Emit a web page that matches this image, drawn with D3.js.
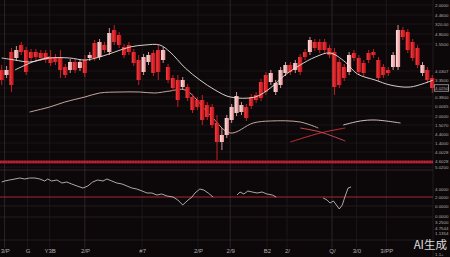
<!DOCTYPE html>
<html lang="en">
<head>
<meta charset="UTF-8">
<title>Candlestick chart</title>
<style>
  body { margin: 0; background: #0c0809; overflow: hidden; }
  svg { display: block; }
  .axis text { font-family: "Liberation Sans", sans-serif; fill: #b3aaab; }
  .axis path { display: none; }
</style>
</head>
<body>
<script src="https://cdn.jsdelivr.net/npm/d3@7/dist/d3.min.js"></script>
<script>
// candle values (one entry per session)
const open  = [100,95,118,112,125,120,118,118,117,117,113,113,113,103,100,108,102,110,112,127,113,125,118,140,135,123,125,118,110,98,
               108,117,120,110,103,92,90,83,83,73,70,70,65,63,47,28,35,50,57,58,63,73,75,88,95,88,78,85,97,105,
               100,113,118,118,128,128,128,122,118,108,103,98,117,112,107,117,118,110,103,100,103,103,140,138,128,122,97,100,92];
const close = [90,100,85,120,118,98,112,113,112,110,107,108,100,95,108,100,108,97,115,112,128,120,137,128,125,115,118,107,90,113,
               115,97,98,120,90,82,70,90,72,60,63,50,53,45,28,35,52,63,74,65,52,64,70,72,78,97,87,100,105,98,
               107,98,113,130,122,120,120,115,83,85,92,115,112,98,97,110,115,92,95,97,115,140,133,120,112,105,105,90,82];
const high  = [105,104,122,124,128,123,121,121,120,120,120,116,120,106,111,111,111,115,118,130,131,128,142,145,138,126,128,121,115,116,
               118,120,125,123,106,95,95,93,86,76,73,75,68,66,55,42,55,66,78,68,66,76,78,91,98,100,90,103,108,108,
               110,116,121,133,131,131,131,125,122,111,106,118,120,115,110,120,121,113,106,103,118,145,143,141,131,125,108,103,95];
const low   = [85,92,78,109,115,95,109,110,109,107,104,105,92,92,97,97,99,93,109,109,110,117,115,125,122,112,115,104,85,95,
               105,94,90,107,87,79,63,80,69,57,60,45,50,42,10,20,32,47,54,55,49,61,67,69,75,85,75,82,94,95,
               97,95,110,115,119,117,117,112,75,82,89,95,109,95,94,107,112,89,92,94,100,100,130,117,109,102,94,87,77];

// overlay lines: [session index, value]
const maFast  = [[0,112],[2.7,110],[5.7,108],[9.8,112],[13.9,112],[17,110],[20,113],[23.1,118],[26.2,123],[29.3,125],[32.3,125],
                 [34.4,118],[37.5,102],[40.5,90],[43.6,80],[46.7,73],[51.8,73],[54.9,82],[57.9,95],[61,105],[64.1,113],[67.1,117],
                 [70.2,108],[72.7,96],[76.3,90],[79.4,85],[83.5,83],[88.2,90]];
const maShort = [[2.7,100],[6.3,108],[9.8,113]];
const maSlow  = [[5.7,58],[9.8,63],[12.9,68],[17,73],[20,77],[24.2,78],[28.2,78],[31.3,77],[34.4,79],[37.5,80],[42.6,55],
                 [46.7,37],[51.4,47],[54.9,49],[61,48],[64.7,42]];
const maSlowB = [[69.8,45],[73.3,49],[76.3,50],[81.5,47]];
const crossA  = [[59,28],[65.1,37],[70.2,42]];
const crossB  = [[61,42],[65.1,38],[70.2,29]];
const bandLevel = 8;

// lower indicator
const osc = [[0,18],[0.6,19],[1.6,20],[2.7,21],[3.7,22],[4.7,21],[5.7,22],[6.8,22],[7.8,21],[8.8,19],[9.4,21],[10.2,19],[11.3,20],
             [12.3,17],[13.3,18],[14.3,16],[15.4,14],[16.6,12],[17.6,14],[18.6,18],[19.6,20],[20.7,19],[21.5,21],[22.5,19],
             [23.5,17],[24.6,16],[25.6,14],[26.6,12],[27.6,11],[28.7,9],[29.7,7],[30.7,7],[31.7,5],[32.7,6],[33.8,4],[35,3],
             [36,0],[37,-5],[38.1,0],[38.9,3],[39.5,7],[40.5,11],[41.3,10],[42.2,7],[43.2,3],[45,null],
             [48.1,5],[48.7,8],[49.5,6],[50.3,9],[51.2,8],[52.2,7],[53.2,8],[54.2,6],[55.3,5],[56.1,3],[60,null],
             [65.7,2],[66.5,0],[67.1,-3],[67.8,-1],[68.4,-5],[69,-9],[69.6,-5],[70.2,4],[70.8,12],[71.4,13]];
const oscLevel = 3;
const oscGrid = [-6, -17, -40];

// axis labels
const priceTicks  = [165,155,146,136,126,99,90,82,73,64,54,45,36,27,18,9,3];
const priceLabels = ["2.0000","4.4600","320.00","4.8000","1.5500","4.0307","3.3500","4.0250","0.3900","0.0065","2.0000",
                     "1.5070","4.4000","1.4000","4.0028","4.6028","5.0200"];
const oscTicks  = [11,3,-6,-16,-22,-28,-33.5,-54.5];
const oscLabels = ["4.0000","2.0000","0.0000","0.0000","3.2500","4.7544","1.1354","1.1+"];
const dateTicks  = [0.6,5.3,9.8,17,28.7,40.1,46.7,54.2,58.3,67.5,72.5,78.6];
const dateLabels = ["3/P","G","Y3B","2/P","#7","2/P","2/9","B2","2/","Q/","3/0","3/PP"];
const markerTick = 82;

const W = 450, H = 257, plotRight = 433;
const n = open.length;

const svg = d3.select("body").append("svg").attr("width", W).attr("height", H);
svg.append("rect").attr("width", W).attr("height", H).attr("fill", "#0c0809");

const defs = svg.append("defs");
const gRed = defs.append("linearGradient").attr("id", "gRed").attr("x1", 0).attr("x2", 1).attr("y1", 0).attr("y2", 0);
gRed.append("stop").attr("offset", "0%").attr("stop-color", "#ff3b3b");
gRed.append("stop").attr("offset", "100%").attr("stop-color", "#b5121b");
const gPink = defs.append("linearGradient").attr("id", "gPink").attr("x1", 0).attr("x2", 1).attr("y1", 0).attr("y2", 0);
gPink.append("stop").attr("offset", "0%").attr("stop-color", "#fde3e1");
gPink.append("stop").attr("offset", "100%").attr("stop-color", "#e88f92");

const x = d3.scaleBand().domain(d3.range(n)).range([-0.4, 434.4]).paddingInner(0.14);
const bw = x.bandwidth();
const xl = d3.scaleLinear().domain([0, n - 1]).range([x(0) + bw / 2, x(n - 1) + bw / 2]);
const y = d3.scaleLinear().domain([0, 170]).range([170, 0]);
const yo = d3.scaleLinear().domain([-30, 30]).range([230, 170]);

// grid
svg.append("g").selectAll("line").data(priceTicks).join("line")
  .attr("x1", 0).attr("x2", plotRight).attr("y1", d => y(d)).attr("y2", d => y(d))
  .attr("stroke", "#241b1e").attr("stroke-width", 0.6);
svg.append("g").selectAll("line").data(oscGrid).join("line")
  .attr("x1", 0).attr("x2", plotRight).attr("y1", d => yo(d)).attr("y2", d => yo(d))
  .attr("stroke", "#2e2226").attr("stroke-width", 0.7);
svg.append("g").selectAll("line").data(dateTicks).join("line")
  .attr("x1", d => xl(d)).attr("x2", d => xl(d)).attr("y1", 0).attr("y2", 248)
  .attr("stroke", (d, i) => i % 3 === 0 ? "#3a3034" : "#241c1f").attr("stroke-width", 0.7);
svg.append("line").attr("x1", plotRight).attr("x2", plotRight).attr("y1", 0).attr("y2", H)
  .attr("stroke", "#2a2024").attr("stroke-width", 0.7);

// panel separators
svg.append("line").attr("x1", 0).attr("x2", plotRight).attr("y1", y(0)).attr("y2", y(0))
  .attr("stroke", "#4a2630").attr("stroke-width", 0.8);
svg.append("line").attr("x1", 0).attr("x2", plotRight).attr("y1", y(bandLevel)).attr("y2", y(bandLevel))
  .attr("stroke", "#b81b31").attr("stroke-width", 3.2).attr("opacity", 0.85);
svg.append("line").attr("x1", 0).attr("x2", plotRight).attr("y1", y(bandLevel)).attr("y2", y(bandLevel))
  .attr("stroke", "#ff4a5a").attr("stroke-width", 1.2).attr("stroke-dasharray", "1.5,1.2").attr("opacity", 0.6);

// slow lines
const line = d3.line().defined(d => d[1] != null).x(d => xl(d[0])).y(d => y(d[1])).curve(d3.curveCatmullRom);
svg.append("path").datum(maSlow).attr("d", line).attr("fill", "none").attr("stroke", "#d9b7ae").attr("stroke-width", 0.9);
svg.append("path").datum(maSlowB).attr("d", line).attr("fill", "none").attr("stroke", "#e4d2ce").attr("stroke-width", 0.9);
svg.append("path").datum(crossA).attr("d", line).attr("fill", "none").attr("stroke", "#d8363e").attr("stroke-width", 0.9);
svg.append("path").datum(crossB).attr("d", line).attr("fill", "none").attr("stroke", "#e0505a").attr("stroke-width", 0.9);

// candles
const idx = d3.range(n);
const up = i => close[i] > open[i];
const candles = svg.append("g").selectAll("g").data(idx).join("g");
candles.append("line")
  .attr("x1", i => x(i) + bw / 2).attr("x2", i => x(i) + bw / 2)
  .attr("y1", i => y(high[i])).attr("y2", i => y(low[i]))
  .attr("stroke", i => up(i) ? "#e9a3a6" : "#d4222c").attr("stroke-width", 0.9);
candles.append("rect")
  .attr("x", i => x(i)).attr("width", bw)
  .attr("y", i => y(Math.max(open[i], close[i])))
  .attr("height", i => Math.max(1, Math.abs(y(open[i]) - y(close[i]))))
  .attr("fill", i => up(i) ? "url(#gPink)" : "url(#gRed)");

// fast lines
svg.append("path").datum(maFast).attr("d", line).attr("fill", "none").attr("stroke", "#ece2de").attr("stroke-width", 0.9);
svg.append("path").datum(maShort).attr("d", line).attr("fill", "none").attr("stroke", "#ece2de").attr("stroke-width", 0.9);

// lower indicator
svg.append("line").attr("x1", 0).attr("x2", plotRight).attr("y1", yo(oscLevel)).attr("y2", yo(oscLevel))
  .attr("stroke", "#a3263a").attr("stroke-width", 1);
const oscLine = d3.line().defined(d => d[1] != null).x(d => xl(d[0])).y(d => yo(d[1]));
svg.append("path").datum(osc).attr("d", oscLine).attr("fill", "none").attr("stroke", "#d6cecd").attr("stroke-width", 0.8);

// right axis
const ay = svg.append("g").attr("class", "axis").attr("transform", `translate(${plotRight + 2},0)`)
  .call(d3.axisRight(y).tickValues(priceTicks).tickFormat((d, i) => priceLabels[i]).tickSize(0).tickPadding(0));
ay.selectAll("text").attr("font-size", 4.4);
svg.append("rect").attr("x", plotRight + 1.2).attr("y", y(markerTick) - 3.2).attr("width", 14.5).attr("height", 6.4)
  .attr("fill", "none").attr("stroke", "#d8d0d0").attr("stroke-width", 0.6);
const ao = svg.append("g").attr("class", "axis").attr("transform", `translate(${plotRight + 2},0)`)
  .call(d3.axisRight(yo).tickValues(oscTicks).tickFormat((d, i) => oscLabels[i]).tickSize(0).tickPadding(0));
ao.selectAll("text").attr("font-size", 4.4);

// watermark
svg.append("text").attr("x", 447).attr("y", 248.5).attr("text-anchor", "end")
  .attr("font-family", "'Noto Sans CJK SC', sans-serif").attr("font-size", 11.5)
  .attr("fill", "#ffffff").attr("opacity", 0.85).text("AI生成");

// bottom axis
const ax = svg.append("g").attr("class", "axis").attr("transform", "translate(0,249)")
  .call(d3.axisBottom(xl).tickValues(dateTicks).tickFormat((d, i) => dateLabels[i]).tickSize(0).tickPadding(0));
ax.selectAll("text").attr("font-size", 6);
</script>
</body>
</html>
